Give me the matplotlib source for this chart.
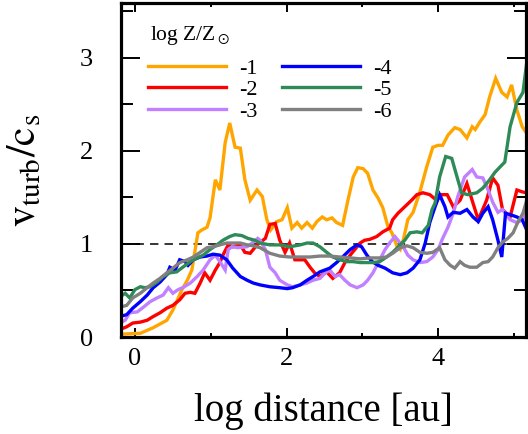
import matplotlib
matplotlib.use("Agg")
import matplotlib.pyplot as plt
from matplotlib.ticker import MultipleLocator, FixedLocator

plt.rcParams["font.family"] = ["Liberation Serif", "DejaVu Serif"]
plt.rcParams["mathtext.fontset"] = "stix"

# turbulent velocity / sound speed versus log distance, one curve per metallicity
x_m1 = [-0.20, 0.07, 0.24, 0.42, 0.50, 0.62, 0.69, 0.75, 0.83, 0.88, 0.95, 0.99, 1.06, 1.12, 1.19,
        1.25, 1.32, 1.39, 1.45, 1.52, 1.61, 1.68, 1.74, 1.79, 1.87, 1.94, 2.01, 2.07, 2.14, 2.20,
        2.27, 2.34, 2.40, 2.47, 2.53, 2.60, 2.66, 2.74, 2.81, 2.88, 2.94, 3.01, 3.07, 3.14, 3.21,
        3.27, 3.34, 3.39, 3.46, 3.50, 3.54, 3.60, 3.67, 3.76, 3.85, 3.93, 4.00, 4.06, 4.13, 4.22,
        4.29, 4.38, 4.45, 4.49, 4.55, 4.62, 4.68, 4.76, 4.84, 4.91, 4.97, 5.04, 5.11, 5.17]
y_m1 = [0.03, 0.04, 0.10, 0.18, 0.29, 0.51, 0.61, 0.72, 1.12, 1.15, 1.18, 1.28, 1.69, 1.58, 2.09,
        2.30, 2.04, 2.03, 1.69, 1.47, 1.58, 1.51, 1.26, 1.15, 1.24, 1.26, 1.39, 1.17, 1.23, 1.17,
        1.23, 1.17, 1.24, 1.29, 1.26, 1.28, 1.23, 1.20, 1.47, 1.72, 1.82, 1.81, 1.76, 1.58, 1.49,
        1.39, 1.18, 1.12, 0.97, 0.94, 1.04, 1.26, 1.34, 1.56, 1.83, 2.04, 2.06, 2.06, 2.17, 2.25,
        2.23, 2.14, 2.26, 2.23, 2.31, 2.39, 2.58, 2.78, 2.63, 2.58, 2.71, 2.44, 2.26, 2.19]

x_m2 = [-0.20, -0.11, -0.03, 0.07, 0.16, 0.24, 0.33, 0.42, 0.50, 0.59, 0.66, 0.73, 0.79, 0.86, 0.92,
        0.99, 1.06, 1.12, 1.16, 1.23, 1.29, 1.39, 1.45, 1.52, 1.61, 1.72, 1.78, 1.85, 1.91, 1.98,
        2.04, 2.11, 2.18, 2.24, 2.31, 2.37, 2.44, 2.53, 2.61, 2.70, 2.77, 2.84, 2.90, 2.97, 3.03,
        3.10, 3.19, 3.27, 3.36, 3.40, 3.47, 3.56, 3.65, 3.72, 3.80, 3.89, 3.98, 4.05, 4.12, 4.20,
        4.29, 4.38, 4.46, 4.53, 4.64, 4.72, 4.79, 4.85, 4.95, 5.04, 5.11, 5.17]
y_m2 = [0.08, 0.11, 0.15, 0.16, 0.18, 0.22, 0.26, 0.31, 0.34, 0.40, 0.47, 0.48, 0.47, 0.58, 0.69,
        0.61, 0.72, 0.80, 0.88, 0.99, 0.97, 0.99, 0.91, 0.90, 0.99, 1.06, 1.21, 1.22, 1.04, 0.91,
        1.01, 0.83, 0.83, 0.83, 0.75, 0.69, 0.65, 0.70, 0.63, 0.69, 0.80, 0.88, 0.94, 1.01, 1.04,
        1.05, 1.08, 1.13, 1.17, 1.26, 1.33, 1.40, 1.47, 1.53, 1.55, 1.53, 1.47, 1.53, 1.53, 1.40,
        1.47, 1.65, 1.44, 1.26, 1.47, 1.71, 1.63, 1.37, 1.29, 1.58, 1.56, 1.55]

x_m3 = [-0.20, -0.13, -0.07, 0.03, 0.11, 0.20, 0.29, 0.37, 0.44, 0.50, 0.57, 0.63, 0.73, 0.82, 0.90,
        0.99, 1.06, 1.12, 1.19, 1.23, 1.28, 1.36, 1.48, 1.56, 1.62, 1.65, 1.72, 1.78, 1.85, 1.91,
        2.01, 2.08, 2.18, 2.27, 2.35, 2.44, 2.51, 2.57, 2.64, 2.70, 2.77, 2.84, 2.93, 3.01, 3.07,
        3.14, 3.23, 3.30, 3.36, 3.43, 3.47, 3.54, 3.60, 3.67, 3.76, 3.85, 3.93, 4.00, 4.06, 4.13,
        4.20, 4.26, 4.35, 4.45, 4.51, 4.59, 4.66, 4.72, 4.79, 4.85, 4.95, 5.04, 5.12, 5.17]
y_m3 = [0.15, 0.18, 0.26, 0.27, 0.32, 0.38, 0.42, 0.45, 0.53, 0.47, 0.51, 0.53, 0.58, 0.65, 0.72,
        0.83, 0.88, 0.81, 0.72, 0.94, 0.97, 0.96, 0.97, 1.02, 1.06, 1.04, 0.94, 0.75, 0.69, 0.61,
        0.56, 0.54, 0.56, 0.58, 0.61, 0.63, 0.69, 0.72, 0.65, 0.67, 0.61, 0.56, 0.53, 0.56, 0.61,
        0.69, 0.83, 0.94, 1.01, 1.08, 1.04, 0.97, 0.88, 0.83, 0.80, 0.81, 0.86, 0.94, 1.06, 1.18,
        1.33, 1.51, 1.72, 1.80, 1.72, 1.71, 1.58, 1.45, 1.34, 1.37, 1.26, 1.23, 1.26, 1.34]

x_m4 = [-0.20, -0.11, -0.03, 0.07, 0.16, 0.24, 0.33, 0.42, 0.46, 0.53, 0.59, 0.66, 0.70, 0.77, 0.86,
        0.95, 1.03, 1.12, 1.21, 1.29, 1.39, 1.48, 1.56, 1.65, 1.78, 1.91, 2.01, 2.08, 2.18, 2.27,
        2.35, 2.44, 2.57, 2.66, 2.74, 2.84, 2.93, 2.99, 3.06, 3.13, 3.21, 3.30, 3.40, 3.50, 3.59,
        3.67, 3.76, 3.83, 3.89, 3.96, 4.02, 4.09, 4.13, 4.20, 4.29, 4.38, 4.46, 4.53, 4.59, 4.66,
        4.72, 4.79, 4.84, 4.89, 4.97, 5.04, 5.11, 5.17]
y_m4 = [0.22, 0.24, 0.31, 0.38, 0.45, 0.53, 0.59, 0.67, 0.75, 0.72, 0.83, 0.81, 0.77, 0.83, 0.86,
        0.87, 0.89, 0.88, 0.83, 0.74, 0.65, 0.61, 0.58, 0.56, 0.54, 0.53, 0.52, 0.53, 0.56, 0.61,
        0.65, 0.70, 0.74, 0.80, 0.86, 0.94, 0.99, 0.97, 0.88, 0.81, 0.77, 0.74, 0.69, 0.67, 0.69,
        0.74, 0.83, 1.01, 1.23, 1.40, 1.53, 1.40, 1.29, 1.34, 1.33, 1.37, 1.29, 1.24, 1.33, 1.40,
        1.26, 1.04, 0.86, 1.33, 1.31, 1.29, 1.26, 1.15]

x_m5 = [-0.20, -0.13, -0.07, 0.00, 0.07, 0.13, 0.20, 0.29, 0.37, 0.46, 0.55, 0.63, 0.73, 0.82, 0.90,
        0.99, 1.08, 1.16, 1.25, 1.32, 1.41, 1.49, 1.58, 1.65, 1.78, 1.91, 2.04, 2.18, 2.27, 2.35,
        2.44, 2.53, 2.61, 2.70, 2.80, 2.88, 2.97, 3.06, 3.14, 3.23, 3.32, 3.40, 3.50, 3.56, 3.63,
        3.72, 3.79, 3.87, 3.92, 3.96, 4.02, 4.10, 4.18, 4.25, 4.31, 4.39, 4.51, 4.59, 4.68, 4.75,
        4.82, 4.88, 4.95, 5.04, 5.12, 5.17]
y_m5 = [0.43, 0.47, 0.42, 0.51, 0.54, 0.53, 0.54, 0.59, 0.65, 0.69, 0.70, 0.75, 0.81, 0.85, 0.88,
        0.94, 0.99, 1.04, 1.08, 1.10, 1.09, 1.06, 1.04, 1.01, 0.99, 0.99, 0.97, 0.99, 1.01, 1.01,
        0.97, 0.91, 0.86, 0.83, 0.81, 0.81, 0.80, 0.80, 0.80, 0.81, 0.86, 0.91, 0.99, 1.04, 1.12,
        1.13, 1.12, 1.20, 1.37, 1.44, 1.72, 1.94, 1.92, 1.72, 1.55, 1.53, 1.55, 1.60, 1.69, 1.77,
        1.83, 1.88, 2.26, 2.52, 2.63, 2.95]

x_m6 = [-0.20, -0.11, -0.03, 0.07, 0.16, 0.24, 0.33, 0.42, 0.50, 0.59, 0.69, 0.77, 0.86, 0.95, 1.03,
        1.12, 1.21, 1.29, 1.39, 1.48, 1.56, 1.65, 1.78, 1.91, 2.04, 2.18, 2.31, 2.44, 2.57, 2.70,
        2.84, 2.97, 3.10, 3.23, 3.32, 3.40, 3.50, 3.59, 3.67, 3.76, 3.85, 3.93, 4.02, 4.09, 4.16,
        4.22, 4.29, 4.35, 4.42, 4.51, 4.59, 4.66, 4.72, 4.79, 4.85, 4.92, 4.99, 5.05, 5.12, 5.17]
y_m6 = [0.32, 0.34, 0.42, 0.47, 0.53, 0.58, 0.63, 0.69, 0.74, 0.80, 0.83, 0.86, 0.91, 0.96, 0.97,
        0.99, 1.01, 1.01, 1.01, 0.99, 0.98, 0.96, 0.90, 0.87, 0.86, 0.86, 0.86, 0.87, 0.87, 0.86,
        0.85, 0.84, 0.85, 0.85, 0.86, 0.90, 0.96, 0.98, 0.96, 0.91, 0.90, 0.91, 0.96, 0.83, 0.77,
        0.74, 0.81, 0.77, 0.75, 0.75, 0.80, 0.81, 0.86, 0.96, 1.02, 1.06, 1.12, 1.23, 1.33, 1.47]

series_labels = ["-1", "-2", "-3", "-4", "-5", "-6"]
series_colors = ["#ffa500", "#ff0000", "#c080ff", "#0000ff", "#2e8b57", "#808080"]
series_x = [x_m1, x_m2, x_m3, x_m4, x_m5, x_m6]
series_y = [y_m1, y_m2, y_m3, y_m4, y_m5, y_m6]

W, H = 528, 434
fig = plt.figure(figsize=(W / 100, H / 100), dpi=100)
ax = fig.add_axes([121 / W, 97 / H, 405 / W, 334 / H])

ax.axhline(1.0, color="black", lw=1.1, linestyle=(0, (5.5, 4)), zorder=1)

handles = []
for xs, ys, c, lab in zip(series_x, series_y, series_colors, series_labels):
    h, = ax.plot(xs, ys, color=c, lw=2.4, label=lab, zorder=2, solid_joinstyle="miter")
    handles.append(h)

ax.set_xlim(-0.185, 5.16)
ax.set_ylim(0, 3.59)

ax.xaxis.set_major_locator(FixedLocator([0, 2, 4]))
ax.xaxis.set_minor_locator(FixedLocator([1, 3, 5]))
ax.yaxis.set_major_locator(MultipleLocator(1))
ax.yaxis.set_minor_locator(MultipleLocator(0.5))

ax.tick_params(axis="x", which="major", direction="in", top=True, bottom=True,
               length=6.5, width=1.4, labelsize=19, pad=8)
ax.tick_params(axis="x", which="minor", direction="in", top=True, bottom=True,
               length=3, width=1.4)
ax.tick_params(axis="y", which="major", direction="in", left=True, right=True,
               length=14, width=1.4, labelsize=19, pad=20)
ax.tick_params(axis="y", which="minor", direction="in", left=True, right=True,
               length=8.5, width=1.4)

for sp in ax.spines.values():
    sp.set_linewidth(2.3)

ax.set_xlabel("log distance [au]", fontsize=28)
ax.xaxis.label.set_va("baseline")
ax.xaxis.set_label_coords(0.5, (13 - 97) / 334)

ax.set_ylabel(r"$\mathrm{v_{turb}/c_s}$", fontsize=30)
ax.yaxis.set_label_coords(-0.19, 0.5)

# legend heading and two-column legend
ax.text((150 - 121) / 405, (337 - 40) / 334, r"log Z/Z$_\odot$", fontsize=15.5,
        transform=ax.transAxes, ha="left", va="baseline")
leg = ax.legend(handles=handles, ncol=2, loc="upper left",
                bbox_to_anchor=(27 / 405, 1 - (58 - 3) / 334), frameon=False,
                fontsize=16, handlelength=3.5, handletextpad=0.6,
                columnspacing=1.1, labelspacing=0.05, borderpad=0,
                borderaxespad=0)
for lh in leg.get_lines():
    lh.set_linewidth(2.4)

fig.savefig("out.png", dpi=100)
